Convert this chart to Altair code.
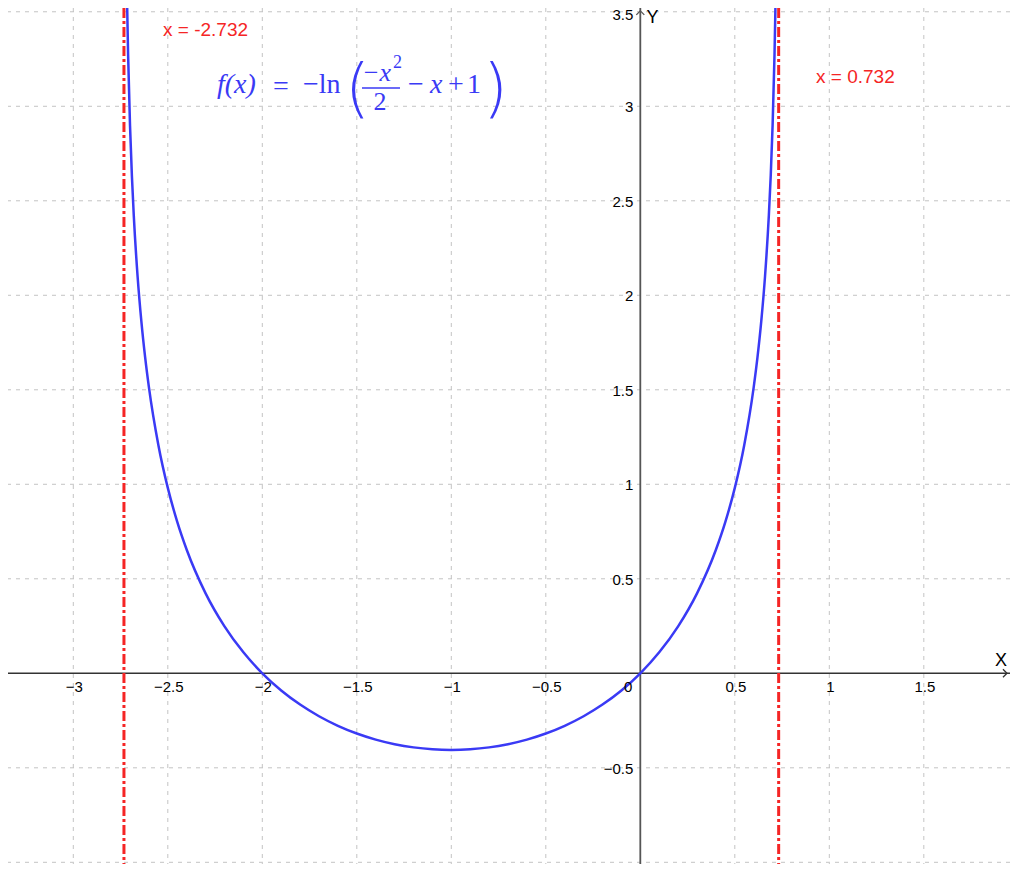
import altair as alt
import pandas as pd

# ---------------- data ----------------
curve_x = [-2.72, -2.715, -2.71, -2.70, -2.69, -2.68, -2.66, -2.64, -2.62, -2.6,
           -2.55, -2.5, -2.45, -2.4, -2.3, -2.2, -2.1, -2.0, -1.9, -1.8,
           -1.7, -1.6, -1.5, -1.4, -1.3, -1.2, -1.1, -1.0, -0.9, -0.8,
           -0.7, -0.6, -0.5, -0.4, -0.3, -0.2, -0.1, 0.0, 0.1, 0.2,
           0.3, 0.4, 0.45, 0.5, 0.55, 0.6, 0.62, 0.64, 0.66, 0.68,
           0.69, 0.70, 0.71, 0.715, 0.72]
curve_y = [3.8728, 3.5272, 3.2715, 2.9004, 2.6318, 2.4214, 2.1021, 1.8630, 1.6724, 1.5141,
           1.2081, 0.9808, 0.8013, 0.6539, 0.4231, 0.2485, 0.1109, 0.0, -0.0908, -0.1655,
           -0.2271, -0.2776, -0.3185, -0.3507, -0.3750, -0.3920, -0.4021, -0.4055, -0.4021, -0.3920,
           -0.3750, -0.3507, -0.3185, -0.2776, -0.2271, -0.1655, -0.0908, 0.0, 0.1109, 0.2485,
           0.4231, 0.6539, 0.8013, 0.9808, 1.2081, 1.5141, 1.6724, 1.8630, 2.1021, 2.4214,
           2.6318, 2.9004, 3.2715, 3.5272, 3.8728]

asymptote_x = [-2.732, 0.732]
asymptote_text = ["x = -2.732", "x = 0.732"]

grid_x = [-3.0, -2.5, -2.0, -1.5, -1.0, -0.5, 0.5, 1.0, 1.5]
grid_y = [-1.0, -0.5, 0.5, 1.0, 1.5, 2.0, 2.5, 3.0, 3.5]

x_tick_values = [-3.0, -2.5, -2.0, -1.5, -1.0, -0.5, 0.5, 1.0, 1.5]
x_tick_labels = ["−3", "−2.5", "−2", "−1.5", "−1", "−0.5", "0.5", "1", "1.5"]
y_tick_values = [-0.5, 0.5, 1.0, 1.5, 2.0, 2.5, 3.0]
y_tick_labels = ["−0.5", "0.5", "1", "1.5", "2", "2.5", "3"]
y_top_value = [3.5]
y_top_label = ["3.5"]

# visible window of the graphics view
XMIN, XMAX = -3.3455, 1.956
YMIN, YMAX = -1.009, 3.520

# ---------------- scales / helpers ----------------
xs = alt.Scale(domain=[XMIN, XMAX], nice=False, zero=False)
ys = alt.Scale(domain=[YMIN, YMAX], nice=False, zero=False)


def X(field="x"):
    return alt.X(f"{field}:Q", scale=xs, axis=None)


def Y(field="y"):
    return alt.Y(f"{field}:Q", scale=ys, axis=None)


BLUE = "#3a3af5"
RED = "#f52525"
GRID = "#c4c4c4"

grid_v = alt.Chart(pd.DataFrame({"x": grid_x})).mark_rule(
    color=GRID, strokeWidth=1, strokeDash=[4, 5]
).encode(x=X())
grid_h = alt.Chart(pd.DataFrame({"y": grid_y})).mark_rule(
    color=GRID, strokeWidth=1, strokeDash=[4, 5]
).encode(y=Y())

x_axis = alt.Chart(pd.DataFrame({"y": [0.0]})).mark_rule(
    color="#333333", strokeWidth=1.5
).encode(y=Y())
y_axis = alt.Chart(pd.DataFrame({"x": [0.0]})).mark_rule(
    color="#555555", strokeWidth=1.8
).encode(x=X())

x_arrow = alt.Chart(pd.DataFrame({"x": [1.94], "y": [0.0]})).mark_point(
    shape="M-1,-1L0,0L-1,1", size=64, filled=False, stroke="#333333",
    strokeWidth=1.3, opacity=1
).encode(x=X(), y=Y())
y_arrow = alt.Chart(pd.DataFrame({"x": [0.0], "y": [3.505]})).mark_point(
    shape="M-1,1L0,0L1,1", size=64, filled=False, stroke="#555555",
    strokeWidth=1.3, opacity=1
).encode(x=X(), y=Y())

asym = alt.Chart(pd.DataFrame({"x": asymptote_x})).mark_rule(
    color=RED, strokeWidth=3, strokeDash=[10, 3, 3, 3]
).encode(x=X())

curve = alt.Chart(pd.DataFrame({"x": curve_x, "y": curve_y})).mark_line(
    color=BLUE, strokeWidth=2.5, clip=True, interpolate="monotone"
).encode(x=X(), y=Y(), order="x:Q")

xlab = alt.Chart(pd.DataFrame({"x": x_tick_values, "y": [0.0] * len(x_tick_values),
                               "text": x_tick_labels})).mark_text(
    font="Liberation Sans", fontSize=15, color="#000000", align="center",
    baseline="middle", dy=14, dx=1
).encode(x=X(), y=Y(), text="text:N")
zero_lab = alt.Chart(pd.DataFrame({"x": [0.0], "y": [0.0], "text": ["0"]})).mark_text(
    font="Liberation Sans", fontSize=15, color="#000000", align="right",
    baseline="middle", dy=14, dx=-8
).encode(x=X(), y=Y(), text="text:N")
ylab = alt.Chart(pd.DataFrame({"x": [0.0] * len(y_tick_values), "y": y_tick_values,
                               "text": y_tick_labels})).mark_text(
    font="Liberation Sans", fontSize=15, color="#000000", align="right",
    baseline="middle", dx=-7, dy=1
).encode(x=X(), y=Y(), text="text:N")
ylab_top = alt.Chart(pd.DataFrame({"x": [0.0], "y": y_top_value,
                                   "text": y_top_label})).mark_text(
    font="Liberation Sans", fontSize=15, color="#000000", align="right",
    baseline="middle", dx=-7, dy=3
).encode(x=X(), y=Y(), text="text:N")

axis_names = alt.Chart(pd.DataFrame({"x": [1.908, 0.0646], "y": [0.065, 3.465],
                                     "text": ["X", "Y"]})).mark_text(
    font="Liberation Sans", fontSize=18, color="#000000", align="center",
    baseline="middle"
).encode(x=X(), y=Y(), text="text:N")

asym_lab = alt.Chart(pd.DataFrame({"x": [-2.5254, 0.9296], "y": [3.406, 3.155],
                                   "text": asymptote_text})).mark_text(
    font="Liberation Sans", fontSize=19, color=RED, align="left", baseline="middle"
).encode(x=X(), y=Y(), text="text:N")

# ---------- formula f(x) = -ln(-x^2/2 - x + 1) ----------
SERIF = "Liberation Serif"


def ftext(xv, yv, txt, size=28, italic=False, align="left", font=SERIF, weight=400):
    return alt.Chart(pd.DataFrame({"x": [xv], "y": [yv], "text": [txt]})).mark_text(
        font=font, fontSize=size, color=BLUE, align=align, baseline="alphabetic",
        fontStyle="italic" if italic else "normal", fontWeight=weight
    ).encode(x=X(), y=Y(), text="text:N")


formula = [
    ftext(-2.2397, 3.0704, "f(x)", italic=True),
    ftext(-1.9434, 3.0598, "="),
    ftext(-1.7847, 3.0704, "−ln"),
    ftext(-1.5624, 2.9804, "(", size=64, font="DejaVu Sans", weight=200),
    ftext(-1.4725, 3.1339, "−x", size=26, italic=True),
    ftext(-1.3085, 3.2026, "2", size=18),
    ftext(-1.3772, 2.9804, "2", size=26, align="center"),
    ftext(-1.2291, 3.0704, "−"),
    ftext(-1.1127, 3.0704, "x", italic=True),
    ftext(-1.0175, 3.0704, "+"),
    ftext(-0.9169, 3.0704, "1"),
    ftext(-0.8323, 2.9804, ")", size=64, font="DejaVu Sans", weight=200),
]
frac_bar = alt.Chart(pd.DataFrame({"x": [-1.4725], "x2": [-1.2714], "y": [3.0968]})).mark_rule(
    color=BLUE, strokeWidth=1.5
).encode(x=X(), x2="x2:Q", y=Y())

chart = alt.layer(
    grid_v, grid_h, x_axis, y_axis, x_arrow, y_arrow, asym, curve,
    xlab, zero_lab, ylab, ylab_top, axis_names, asym_lab, frac_bar, *formula
).properties(
    width=1002, height=856, padding=0, background="white",
    autosize=alt.AutoSizeParams(type="none")
).configure_view(strokeWidth=0)

chart.save("out.html", embed_options={"renderer": "svg", "actions": False})
